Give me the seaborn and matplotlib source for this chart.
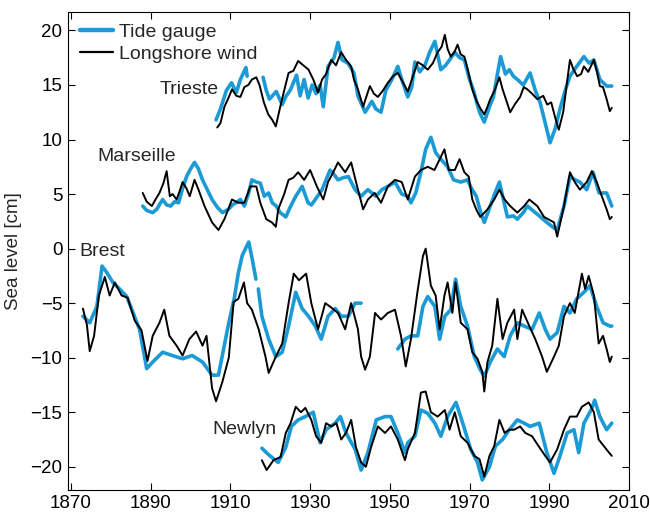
import numpy as np
import pandas as pd
import matplotlib
matplotlib.use("Agg")
import matplotlib.pyplot as plt
import seaborn as sns
from matplotlib.lines import Line2D

# ---------------- data ----------------
nan = np.nan

trieste_tide_year = [1906.4, 1907.5, 1909, 1910.3, 1911.5, 1912.5, 1913.9, 1914.2, 1916,
                     1918.2, 1919, 1919.8, 1921.5, 1923, 1924, 1925, 1926.6, 1927.5, 1928.5, 1929.5,
                     1930.5, 1931.5, 1932.5, 1933.3, 1934.5, 1936, 1937, 1938, 1939.5, 1941, 1942,
                     1943.8, 1945.5, 1946.5, 1947.8, 1949, 1950.5, 1952, 1953, 1954.5, 1955.5, 1956.3,
                     1957.5, 1958.8, 1960, 1961.3, 1962.8, 1964, 1965, 1966.3, 1967.5, 1968.7, 1970,
                     1971, 1972.5, 1973.7, 1975, 1976, 1977, 1977.8, 1979, 1980, 1981, 1982, 1983.5,
                     1985.2, 1986.5, 1987.7, 1989, 1990.2, 1991.5, 1992.7, 1994, 1995.2, 1996.5, 1998.7,
                     2000, 2001.2, 2002.7, 2004.4, 2005.7]
trieste_tide = [11.8, 12.8, 14.5, 15.2, 14.3, 15.5, 16.6, 15.8, nan,
                15.7, 14.5, 13.7, 14.4, 13.2, 14.0, 14.5, 15.9, 14.0, 15.5, 13.8,
                15.0, 14.2, 15.0, 13.0, 16.7, 17.5, 18.9, 17.3, 17.0, 16.1, 14.0,
                12.5, 13.5, 12.8, 12.5, 14.5, 15.5, 16.7, 15.5, 13.9, 14.8, 17.1,
                16.2, 16.8, 18.0, 19.0, 16.4, 16.8, 17.3, 18.0, 17.5, 17.3, 15.5,
                14.5, 12.5, 11.6, 13.0, 13.9, 16.0, 17.6, 16.0, 16.4, 15.8, 15.5, 15.0,
                16.1, 14.5, 13.4, 11.5, 9.7, 11.0, 12.8, 14.5, 15.8, 16.5, 17.6,
                17.0, 17.3, 15.5, 14.9, 14.9]

trieste_wind_year = [1906.7, 1907.5, 1908.5, 1909.5, 1910.4, 1911.5, 1912.5, 1913.5, 1914.5, 1915.4,
                     1916.5, 1917.3, 1918.4, 1919.5, 1920.5, 1921.4, 1922.5, 1923.5, 1924.6, 1925.8,
                     1927, 1928.3, 1929.6, 1930.8, 1932, 1933, 1934, 1935.3, 1936.5, 1937.8, 1939,
                     1940.3, 1941, 1942, 1943.3, 1944, 1945, 1946, 1947, 1948.3, 1949.5, 1950.8, 1952,
                     1953.2, 1954.5, 1955.8, 1957, 1958.3, 1959.5, 1960.8, 1962, 1963, 1963.8, 1964.5,
                     1965.3, 1966.2, 1967, 1967.8, 1968.7, 1969.5, 1970.7, 1971.8, 1972.8, 1973.7,
                     1974.5, 1975.2, 1976.3, 1977.5, 1978.3, 1979.3, 1980.2, 1981.5, 1982.7, 1983.6,
                     1984.5, 1985.7, 1987, 1988.5, 1989.5, 1990.5, 1991.5, 1992.4, 1993.5, 1994.3,
                     1995.2, 1996, 1997, 1998, 1998.7, 1999.8, 2001.2, 2002, 2002.7, 2003.5, 2004.4,
                     2005.2, 2005.7]
trieste_wind = [11.1, 11.5, 13.0, 13.8, 14.6, 14.0, 13.9, 14.8, 15.0, 15.5,
                15.7, 15.0, 13.4, 12.3, 11.8, 11.2, 13.0, 14.5, 16.1, 16.3,
                17.2, 16.8, 16.4, 15.5, 14.3, 15.5, 16.0, 17.3, 16.8, 18.0, 17.3,
                16.7, 15.5, 14.6, 13.0, 13.8, 14.9, 14.2, 13.9, 14.5, 15.2, 15.8, 16.1,
                15.3, 14.4, 15.8, 17.1, 16.8, 16.4, 17.0, 18.0, 18.5, 19.6, 18.3,
                17.6, 18.0, 18.7, 17.8, 17.6, 16.5, 14.6, 13.5, 12.8, 12.3,
                13.0, 13.7, 14.5, 15.7, 14.6, 13.5, 12.5, 13.3, 13.9, 14.8,
                14.6, 14.2, 13.7, 14.0, 13.2, 13.4, 12.0, 10.9, 12.5, 14.8,
                17.3, 16.5, 15.8, 16.0, 16.7, 16.2, 17.3, 16.2, 14.9, 14.8, 13.7,
                12.6, 12.9]

marseille_tide_year = [1888, 1889, 1890.5, 1891.5, 1893, 1894, 1895, 1896, 1897, 1898, 1899, 1900,
                       1901, 1902, 1903, 1904.2, 1905.4, 1906.7, 1908, 1909.5, 1910.5, 1911.4, 1912.5,
                       1913.5, 1914.5, 1915.4, 1916.5, 1917.5, 1918.5, 1919.6, 1920.5, 1921.5, 1922.5,
                       1923.9, 1925, 1926.4, 1928, 1929.5, 1930.3, 1931.3, 1933, 1935, 1936, 1937,
                       1938.3, 1939.6, 1941.3, 1942.8, 1944.5, 1946.5, 1948, 1950, 1951.3, 1953,
                       1954.5, 1955.3, 1956.5, 1957.8, 1959, 1960.3, 1961.5, 1962.8, 1964.5, 1966,
                       1967.8, 1969.5, 1970.5, 1971.7, 1972.8, 1973.7, 1975.2, 1976.3, 1977.5, 1978.5,
                       1979.5, 1981, 1982, 1983.5, 1984.5, 1986.5, 1987.5, 1989.4, 1990.8, 1992,
                       1993.7, 1995.2, 1996.5, 1997.7, 1999.4, 2001, 2002.5, 2004.4, 2005.7]
marseille_tide = [3.9, 3.5, 3.3, 3.6, 4.5, 4.0, 3.9, 4.3, 4.2, 5.5, 6.6, 7.3,
                  7.9, 7.3, 6.3, 5.4, 4.5, 3.8, 3.3, 3.6, 4.0, 4.2, 4.5,
                  3.9, 5.0, 6.3, 6.1, 6.0, 4.8, 5.1, 4.2, 3.9, 3.3,
                  2.9, 3.8, 4.8, 5.7, 4.2, 4.0, 4.5, 5.4, 7.2, 6.8, 6.3,
                  6.5, 6.6, 5.4, 4.8, 5.4, 4.8, 5.4, 5.8, 6.1, 5.0,
                  4.8, 4.2, 5.1, 7.0, 9.1, 10.2, 8.8, 8.2, 7.5, 6.3,
                  6.1, 6.3, 5.5, 4.8, 3.3, 2.4, 3.9, 5.0, 6.1, 4.5,
                  2.9, 3.0, 2.7, 3.3, 3.9, 3.3, 3.0, 2.4, 2.0, 1.7,
                  3.9, 6.6, 6.3, 6.1, 5.4, 7.0, 5.1, 5.1, 3.9]

marseille_wind_year = [1888, 1889, 1890.3, 1891.2, 1892.2, 1893.2, 1894, 1894.8, 1895.5, 1896.5,
                       1897.2, 1898, 1899, 1899.8, 1901, 1902, 1903.5, 1905.4, 1907, 1908.5, 1910.4,
                       1912, 1913.5, 1915, 1916.5, 1917.5, 1919, 1920.4, 1921.4, 1922, 1923.5, 1924.6,
                       1925.8, 1927, 1928.5, 1930, 1931.7, 1933.3, 1934.5, 1935.8, 1937, 1938.8, 1940.3,
                       1941.8, 1943.3, 1944.5, 1946.2, 1947.8, 1949.5, 1951.3, 1953, 1954.5, 1956.3,
                       1957.8, 1959.5, 1961.2, 1962.8, 1963.7, 1964.8, 1966.3, 1967.5, 1968.7, 1969.8,
                       1970.7, 1971.8, 1972.7, 1974.5, 1976.2, 1977.5, 1978.8, 1980.2, 1982, 1983.7,
                       1985, 1987, 1988.7, 1991.2, 1992, 1993.7, 1995.2, 1996.4, 1997.7, 1999.4, 2000.7,
                       2001.9, 2003.2, 2004.4, 2005.2, 2005.7]
marseille_wind = [5.1, 4.3, 3.9, 4.5, 5.1, 6.0, 7.1, 4.8, 5.0, 4.5,
                  5.2, 6.1, 5.5, 4.8, 6.3, 5.4, 3.9, 2.4, 1.7, 2.7, 4.5,
                  4.2, 4.2, 5.7, 5.7, 4.2, 2.7, 2.4, 2.0, 3.6, 5.0, 6.3,
                  6.5, 7.0, 6.3, 7.2, 5.7, 4.5, 6.1, 7.0, 7.9, 7.0, 7.9,
                  5.7, 3.6, 4.5, 5.1, 4.2, 5.7, 6.3, 6.1, 4.5, 6.6,
                  7.2, 7.5, 7.2, 8.4, 9.1, 7.2, 7.2, 8.2, 7.0, 6.6,
                  4.5, 3.5, 2.9, 3.6, 4.5, 5.4, 4.5, 3.9, 3.3, 3.9,
                  4.5, 3.9, 2.9, 2.4, 1.1, 3.9, 7.0, 6.1, 5.4, 6.1, 7.1,
                  6.1, 4.8, 3.6, 2.7, 2.9]

brest_tide_year = [1873, 1874.7, 1876.5, 1877.8, 1879, 1880.5, 1882.2, 1884, 1885.5, 1887.2, 1888,
                   1889, 1890.5, 1893, 1895.4, 1898, 1900.4, 1903, 1905.4, 1907, 1909.6, 1911,
                   1912, 1913, 1914.6, 1915.5, 1916.4, 1916.7, 1917, 1917.9, 1919.6, 1921.4, 1923,
                   1924.6, 1926.4, 1928, 1929.6, 1931.3, 1932.8, 1934.5, 1936.3, 1937.8, 1939.6,
                   1941.3, 1942.8, 1947, 1952, 1953.8, 1955.3, 1957, 1958.3, 1959.5, 1961.3, 1962.5,
                   1963.8, 1965.3, 1966.5, 1967.8, 1969.5, 1971.2, 1972.7, 1973.7, 1975.2, 1977,
                   1978.7, 1980.2, 1982, 1983.7, 1985.7, 1987.5, 1989, 1990.2, 1992, 1993.7, 1995.2,
                   1996.9, 1998.7, 2000.2, 2001.9, 2003.5, 2005.2, 2005.7]
brest_tide = [-6.2, -6.8, -5.3, -1.6, -2.2, -3.1, -3.7, -4.4, -5.8, -7.4, -9.0,
              -11.0, -10.4, -9.5, -9.8, -10.1, -9.8, -10.4, -11.6, -11.6, -6.8, -4.5,
              -2.2, -0.6, 0.6, -1.0, -2.8, nan, -3.7, -6.2, -8.3, -9.9, -9.5,
              -7.1, -4.0, -5.5, -6.2, -7.1, -8.3, -6.2, -5.5, -6.2, -6.2,
              -5.0, -5.0, nan, -9.2, -8.3, -8.0, -8.0, -5.3, -4.4, -5.3, -8.3,
              -6.2, -5.6, -2.8, -5.3, -7.1, -9.9, -11.1, -11.7, -10.4, -9.2,
              -9.9, -8.0, -6.8, -7.1, -7.4, -5.9, -7.4, -8.3, -7.7, -5.3, -5.9,
              -4.6, -4.0, -3.4, -5.3, -6.8, -7.1, -7.1]

brest_wind_year = [1873, 1874, 1874.7, 1875.8, 1877, 1878.5, 1879.7, 1881, 1882.7, 1884.2, 1886,
                   1887.7, 1889.2, 1890.5, 1892.2, 1893.4, 1894.7, 1896.5, 1898, 1899.7, 1901.4,
                   1903, 1904, 1905.4, 1906.4, 1908, 1909.6, 1910.8, 1912, 1913.4, 1914.2, 1915.4,
                   1917.1, 1918.8, 1919.6, 1921.4, 1923, 1924.6, 1925.9, 1927.2, 1929, 1930.3, 1932,
                   1933.8, 1935.3, 1937, 1938.8, 1940.3, 1942, 1942.8, 1943.8, 1945, 1946.3, 1947.8,
                   1949.5, 1951.3, 1952.8, 1954, 1955.3, 1957, 1958.3, 1959, 1960.3, 1961.5, 1962.5,
                   1963.7, 1964.5, 1965.7, 1966.5, 1967.8, 1969.5, 1970.7, 1972, 1973.2, 1973.7,
                   1974.5, 1975.7, 1977, 1978.3, 1979.5, 1981.2, 1982, 1983.2, 1985, 1986.5, 1988.2,
                   1989.4, 1991.2, 1992.4, 1993.7, 1995.2, 1996.4, 1998.2, 1999, 1999.9, 2001.2,
                   2002.4, 2003.5, 2004.4, 2005.2, 2005.7]
brest_wind = [-5.5, -7.0, -9.4, -8.0, -4.3, -2.6, -4.3, -3.1, -4.3, -4.5, -6.6,
              -7.5, -10.3, -8.0, -6.8, -5.6, -8.0, -8.9, -9.8, -8.3, -7.6,
              -8.9, -8.0, -12.8, -14.0, -12.2, -10.0, -4.9, -4.6, -3.1, -5.0, -5.6,
              -7.4, -9.9, -11.4, -9.9, -8.7, -5.0, -2.3, -2.9, -2.3, -5.0, -7.4,
              -5.0, -5.4, -5.9, -7.4, -5.0, -7.4, -9.9, -11.1, -9.9, -5.9, -6.5,
              -5.9, -5.6, -8.0, -10.8, -8.3, -3.8, -0.7, 0.0, -3.4, -4.3, -7.4,
              -4.3, -3.1, -5.9, -3.1, -6.8, -7.4, -9.5, -10.1, -11.3, -13.1,
              -10.4, -8.9, -4.6, -8.3, -6.8, -5.6, -8.3, -5.6, -7.1, -8.3, -9.9,
              -11.3, -9.9, -8.9, -6.2, -5.0, -5.9, -2.3, -3.7, -2.5, -4.3,
              -8.7, -8.0, -9.2, -10.4, -9.9]

newlyn_tide_year = [1917.9, 1919.6, 1922, 1923.9, 1925.3, 1927, 1928.8, 1930.8, 1932.5, 1934,
                    1936.3, 1937.6, 1939, 1941.3, 1942.8, 1944.5, 1946.6, 1948.8, 1950.3, 1952,
                    1953.8, 1954.5, 1956.3, 1957.8, 1959.5, 1961.3, 1962.8, 1964.5, 1966.6, 1968.3,
                    1970.3, 1972, 1973.2, 1975, 1976.5, 1978.3, 1980, 1982, 1983.7, 1985.2, 1987.5,
                    1989.4, 1991.2, 1992.7, 1994.5, 1996.2, 1997.4, 1998.7, 2000.5, 2001.4, 2002.7,
                    2004.4, 2005.7]
newlyn_tide = [-18.3, -18.9, -19.6, -18.2, -16.3, -15.7, -15.4, -15.0, -17.8, -16.6,
               -16.0, -15.4, -16.9, -18.4, -20.3, -18.7, -15.7, -15.4, -15.4, -16.9,
               -18.7, -17.8, -17.2, -14.8, -15.1, -16.0, -17.2, -15.4, -14.1, -16.0,
               -18.4, -19.6, -21.2, -20.0, -18.1, -17.5, -16.6, -15.7, -16.0, -16.3, -16.0,
               -18.7, -20.6, -19.0, -16.9, -16.6, -18.7, -16.0, -14.8, -13.9, -15.4,
               -16.6, -16.0]

newlyn_wind_year = [1917.9, 1919.1, 1920.8, 1922.6, 1923.9, 1925.1, 1926.4, 1927.7, 1928.8, 1930.3,
                    1931.5, 1932.8, 1934, 1935.3, 1936.6, 1937.8, 1939, 1940.3, 1941.5, 1942.8, 1944,
                    1945.3, 1947, 1948.8, 1950.3, 1952, 1953.8, 1954.5, 1956.3, 1957.8, 1959, 1960.3,
                    1962, 1963.8, 1965, 1966.3, 1967.8, 1969.5, 1971.2, 1972.5, 1973.7, 1975, 1976.2,
                    1977.5, 1978.8, 1980, 1981.2, 1982.7, 1984, 1985.7, 1987.5, 1989, 1990.2, 1992,
                    1993.7, 1995.2, 1996.9, 1998.2, 1999.9, 2001.2, 2002.4, 2003.7, 2005, 2005.7]
newlyn_wind = [-19.4, -20.3, -19.4, -19.1, -16.9, -16.0, -14.5, -15.0, -14.6, -15.7,
               -17.2, -17.8, -16.0, -16.3, -16.0, -17.5, -16.9, -15.7, -18.2, -19.6, -20.0,
               -18.2, -16.3, -16.9, -16.3, -17.5, -19.4, -18.4, -16.9, -13.2, -13.1, -15.0,
               -15.4, -14.8, -16.6, -15.0, -17.2, -17.8, -19.0, -19.3, -20.9, -19.0, -18.1,
               -15.7, -16.9, -16.6, -16.6, -16.3, -16.9, -17.2, -18.2, -19.0, -19.6, -18.4,
               -16.6, -15.4, -15.4, -14.5, -14.1, -15.0, -17.5, -18.1, -18.7, -19.0]

stations = ["Trieste", "Marseille", "Brest", "Newlyn"]
series_labels = ["Tide gauge", "Longshore wind"]
x_ticks = [1870, 1890, 1910, 1930, 1950, 1970, 1990, 2010]
y_ticks = [-20, -15, -10, -5, 0, 5, 10, 15, 20]

# ---------------- build long table ----------------
BLUE = "#1b9ad6"
BLACK = "#000000"

raw = [
    ("Trieste", "Tide gauge", trieste_tide_year, trieste_tide),
    ("Marseille", "Tide gauge", marseille_tide_year, marseille_tide),
    ("Brest", "Tide gauge", brest_tide_year, brest_tide),
    ("Newlyn", "Tide gauge", newlyn_tide_year, newlyn_tide),
    ("Trieste", "Longshore wind", trieste_wind_year, trieste_wind),
    ("Marseille", "Longshore wind", marseille_wind_year, marseille_wind),
    ("Brest", "Longshore wind", brest_wind_year, brest_wind),
    ("Newlyn", "Longshore wind", newlyn_wind_year, newlyn_wind),
]
rows = []
seg_id = 0
for st, kind, yrs, vals in raw:
    seg_id += 1
    for yr, v in zip(yrs, vals):
        if np.isnan(v):
            seg_id += 1
            continue
        rows.append({"station": st, "kind": kind, "year": yr, "value": v, "seg": seg_id})
df = pd.DataFrame(rows)

# ---------------- plot ----------------
sns.set_style("ticks")
plt.rcParams["font.family"] = ["Liberation Sans", "DejaVu Sans"]

fig = plt.figure(figsize=(6.5, 5.16), dpi=100)
ax = fig.add_axes([0.1046, 0.051, 0.863, 0.926])

for kind, color, lw in [("Tide gauge", BLUE, 2.6), ("Longshore wind", BLACK, 1.4)]:
    sub = df[df["kind"] == kind]
    sns.lineplot(data=sub, x="year", y="value", units="seg", estimator=None,
                 color=color, linewidth=lw, ax=ax, sort=False, legend=False)

ax.set_xlim(1869.25, 2010)
ax.set_ylim(-22.1, 21.7)
ax.set_xticks(x_ticks)
ax.set_yticks(y_ticks)
ax.set_xticklabels([str(t) for t in x_ticks])
ax.set_yticklabels([f"{t:d}".replace("-", "\u2212") for t in y_ticks])
ax.tick_params(direction="in", length=5, width=0.8, labelsize=13.5,
               top=True, right=True, pad=4, colors="black")
for s in ax.spines.values():
    s.set_visible(True)
    s.set_linewidth(0.8)
    s.set_color("black")
ax.set_xlabel("")
ax.set_ylabel("Sea level [cm]", fontsize=13.5, labelpad=6)

# station names
label_pos = {"Trieste": (1892.2, 14.6), "Marseille": (1876.5, 8.4),
             "Brest": (1872.2, -0.3), "Newlyn": (1905.4, -16.6)}
for st in stations:
    x, y = label_pos[st]
    ax.text(x, y, st, fontsize=14, ha="left", va="center")

handles = [Line2D([], [], color=BLUE, lw=3.2), Line2D([], [], color=BLACK, lw=1.6)]
ax.legend(handles, series_labels, loc="upper left", frameon=False, fontsize=14,
          handlelength=1.7, handletextpad=0.3, borderaxespad=0.2, labelspacing=0.2,
          bbox_to_anchor=(0.0, 1.0))

fig.savefig("out.png", dpi=100)
